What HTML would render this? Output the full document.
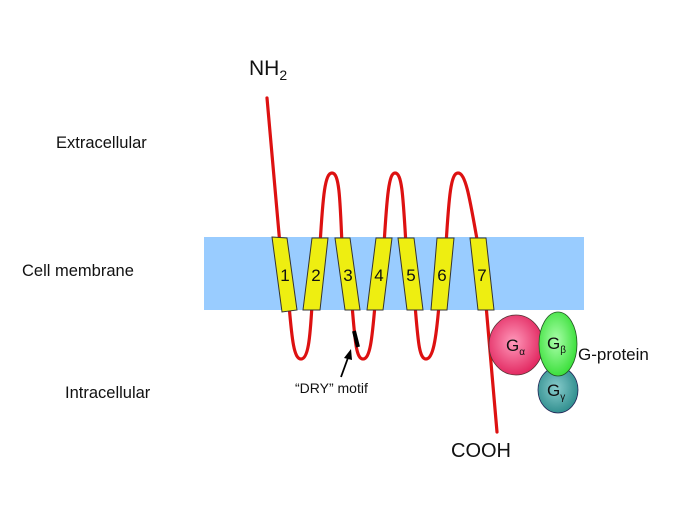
<!DOCTYPE html>
<html><head><meta charset="utf-8"><style>
html,body{margin:0;padding:0;background:#fff;}
svg{display:block;}
text{font-family:"Liberation Sans",Arial,sans-serif;fill:#111;}
</style></head><body>
<svg width="700" height="525" viewBox="0 0 700 525" xmlns="http://www.w3.org/2000/svg">
<rect x="0" y="0" width="700" height="525" fill="#fff"/>
<rect x="204" y="237" width="380" height="73" fill="#99ccff"/>
<g fill="none" stroke="#dd1111" stroke-width="3.2" stroke-linecap="round">
<path d="M267,98 L280,245"/>
<path d="M289,305 C292,340 294,359 301,359 C308,359 310,340 312,305"/>
<path d="M320,245 C323,195 325,173 332,173 C339,173 340,195 342,245"/>
<path d="M352,305 C355,340 356,359 363,359 C370,359 372,340 375,305"/>
<path d="M384,245 C387,195 389,173 395,173 C402,173 403,195 406,245"/>
<path d="M415,305 C418,340 419,359 426,359 C433,359 436,340 439,305"/>
<path d="M446,245 C449,195 451,173 458,173 C466,173 470,200 478,245"/>
<path d="M486,305 L497,432"/>
</g>
<line x1="354" y1="331" x2="358" y2="347" stroke="#000" stroke-width="4"/>
<line x1="341" y1="377" x2="349" y2="355" stroke="#000" stroke-width="1.8"/>
<polygon points="351,349 344,358 352,360" fill="#000"/>
<g fill="#eeee11" stroke="#333" stroke-width="1">
<polygon points="272,237 287,238 297,310 282,312"/>
<polygon points="312,238 328,238 320,310 303,310"/>
<polygon points="335,238 350,238 360,310 345,310"/>
<polygon points="376,238 392,238 383,310 367,310"/>
<polygon points="398,238 414,238 423,310 407,310"/>
<polygon points="437,238 454,238 447,310 431,310"/>
<polygon points="470,238 486,238 494,310 478,310"/>
</g>
<g font-size="17" text-anchor="middle">
<text x="285" y="281">1</text>
<text x="316" y="281">2</text>
<text x="348" y="281">3</text>
<text x="379" y="281">4</text>
<text x="411" y="281">5</text>
<text x="442" y="281">6</text>
<text x="482" y="281">7</text>
</g>
<defs>
<radialGradient id="ga" cx="0.45" cy="0.45" r="0.6"><stop offset="0" stop-color="#ff99bb"/><stop offset="1" stop-color="#e0205a"/></radialGradient>
<radialGradient id="gb" cx="0.45" cy="0.45" r="0.6"><stop offset="0" stop-color="#aaffaa"/><stop offset="1" stop-color="#33dd33"/></radialGradient>
<radialGradient id="gg" cx="0.45" cy="0.45" r="0.6"><stop offset="0" stop-color="#88cccc"/><stop offset="1" stop-color="#2a8a8a"/></radialGradient>
</defs>
<ellipse cx="558" cy="390" rx="20" ry="23" fill="url(#gg)" stroke="#225" stroke-width="0.8"/>
<ellipse cx="516" cy="345" rx="27" ry="30" fill="url(#ga)" stroke="#533" stroke-width="0.8"/>
<ellipse cx="558" cy="344" rx="19" ry="32" fill="url(#gb)" stroke="#252" stroke-width="0.8"/>
<text x="506" y="351" font-size="17">G<tspan font-size="10" dy="4">α</tspan></text>
<text x="547" y="349" font-size="17">G<tspan font-size="10" dy="4">β</tspan></text>
<text x="547" y="396" font-size="17">G<tspan font-size="10" dy="4">γ</tspan></text>
<text x="578" y="360" font-size="17">G-protein</text>
<text x="249" y="75" font-size="21">NH<tspan font-size="14" dy="5">2</tspan></text>
<text x="56" y="148" font-size="16.5">Extracellular</text>
<text x="22" y="276" font-size="16.5">Cell membrane</text>
<text x="65" y="398" font-size="16.5">Intracellular</text>
<text x="295" y="393" font-size="14">“DRY” motif</text>
<text x="451" y="457" font-size="20">COOH</text>
</svg>
</body></html>
